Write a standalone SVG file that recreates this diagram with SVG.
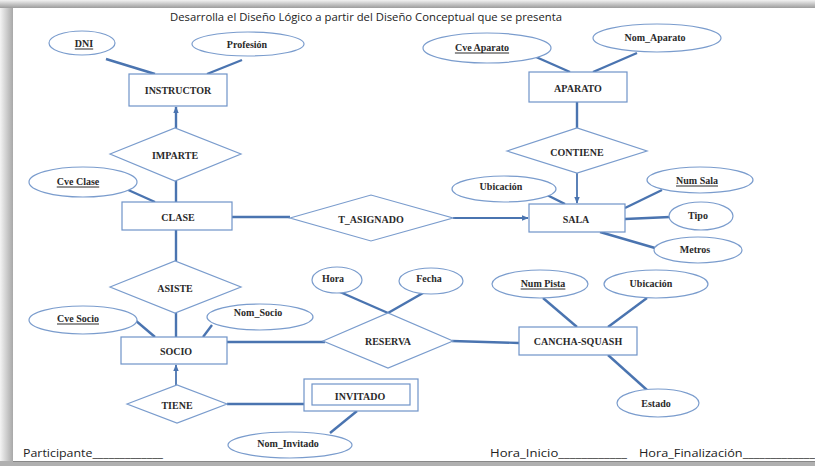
<svg xmlns="http://www.w3.org/2000/svg" width="815" height="466" viewBox="0 0 815 466">
<defs>
<linearGradient id="shL" x1="0" y1="0" x2="1" y2="0"><stop offset="0" stop-color="#f4f4f4"/><stop offset="1" stop-color="#a8a8a8"/></linearGradient>
<linearGradient id="shT" x1="0" y1="0" x2="0" y2="1"><stop offset="0" stop-color="#f2f2f2"/><stop offset="1" stop-color="#9c9c9c"/></linearGradient>
<marker id="arr" viewBox="0 0 10 10" refX="9" refY="5" markerWidth="7" markerHeight="7" markerUnits="userSpaceOnUse" orient="auto"><path d="M0,1 L10,5 L0,9 z" fill="#4a74b0"/></marker>
<style>
.ent{fill:#fff;stroke:#6f93c8;stroke-width:1.2}
.att{fill:#fff;stroke:#7a9ccd;stroke-width:1.2}
.rel{fill:#fff;stroke:#7a9ccd;stroke-width:1.2}
.t{font-family:"Liberation Serif",serif;font-weight:bold;font-size:10px;fill:#2a2a2a;text-anchor:middle;dominant-baseline:central}
.u{text-decoration:underline}
.c line,.c path{stroke:#4a74b0;stroke-width:2.4;fill:none}
.hd{font-family:"Open Sans","Liberation Sans",sans-serif;font-size:10.5px;fill:#222}
</style>
</defs>
<rect x="0" y="0" width="815" height="466" fill="#fff"/>
<rect x="0" y="0" width="13" height="466" fill="url(#shL)"/>
<rect x="0" y="0" width="815" height="8" fill="url(#shT)"/>
<rect x="0" y="461" width="815" height="5" fill="#b0b0b0"/>
<line x1="13" y1="461.5" x2="815" y2="461.5" stroke="#888" stroke-width="1.2"/>

<text class="hd" x="366" y="21" text-anchor="middle" textLength="392" lengthAdjust="spacingAndGlyphs">Desarrolla el Diseño Lógico a partir del Diseño Conceptual que se presenta</text>

<g class="c" id="connectors">
<line x1="106" y1="59" x2="155" y2="74"/>
<line x1="242" y1="60" x2="207" y2="74"/>
<line x1="176" y1="128" x2="176" y2="107" marker-end="url(#arr)"/>
<line x1="176" y1="181" x2="176" y2="202"/>
<line x1="126" y1="189" x2="155" y2="202"/>
<line x1="232" y1="217" x2="290" y2="217"/>
<line x1="453" y1="218" x2="528" y2="218" marker-end="url(#arr)" style="stroke-width:1.8"/>
<line x1="536" y1="57" x2="570" y2="72"/>
<line x1="637" y1="53" x2="593" y2="72"/>
<line x1="577" y1="102" x2="577" y2="128"/>
<line x1="577" y1="173" x2="577" y2="203" marker-end="url(#arr)" style="stroke-width:1.8"/>
<line x1="547" y1="195" x2="565" y2="204"/>
<line x1="662" y1="190" x2="625" y2="208"/>
<line x1="625" y1="219" x2="670" y2="217"/>
<line x1="600" y1="232" x2="655" y2="248"/>
<line x1="176" y1="230" x2="176" y2="261"/>
<line x1="176" y1="313" x2="176" y2="337"/>
<line x1="135" y1="320" x2="155" y2="337"/>
<line x1="212" y1="325" x2="203" y2="337"/>
<line x1="227" y1="342" x2="325" y2="342"/>
<line x1="176" y1="385" x2="176" y2="365" marker-end="url(#arr)" style="stroke-width:1.8"/>
<line x1="227" y1="404" x2="304" y2="404"/>
<line x1="357" y1="411" x2="330" y2="433"/>
<line x1="340" y1="292" x2="388" y2="313"/>
<line x1="423" y1="293" x2="388" y2="313"/>
<line x1="452" y1="341" x2="519" y2="343"/>
<line x1="543" y1="298" x2="577" y2="327"/>
<line x1="647" y1="298" x2="608" y2="327"/>
<line x1="608" y1="355" x2="647" y2="390"/>
</g>

<g id="instructor"><rect class="ent" x="129" y="74" width="98" height="32"/><text class="t" x="178" y="90">INSTRUCTOR</text></g>
<g id="dni"><ellipse class="att" cx="82" cy="43" rx="33" ry="12"/><text class="t u" x="84" y="43">DNI</text></g>
<g id="profesion"><ellipse class="att" cx="248" cy="44" rx="56" ry="12"/><text class="t" x="247" y="44">Profesión</text></g>
<g id="imparte"><polygon class="rel" points="110,154 175,128 241,154 175,181"/><text class="t" x="175" y="155">IMPARTE</text></g>
<g id="clase"><rect class="ent" x="122" y="202" width="110" height="28"/><text class="t" x="178" y="217">CLASE</text></g>
<g id="cve_clase"><ellipse class="att" cx="83" cy="182" rx="54" ry="15"/><text class="t u" x="78" y="181">Cve Clase</text></g>
<g id="t_asignado"><polygon class="rel" points="290,218 371,195 453,218 371,241"/><text class="t" x="371" y="219">T_ASIGNADO</text></g>
<g id="aparato"><rect class="ent" x="529" y="72" width="98" height="30"/><text class="t" x="578" y="88">APARATO</text></g>
<g id="cve_aparato"><ellipse class="att" cx="487" cy="48" rx="64" ry="15"/><text class="t u" x="482" y="47">Cve Aparato</text></g>
<g id="nom_aparato"><ellipse class="att" cx="657" cy="38" rx="64" ry="14"/><text class="t" x="655" y="37">Nom_Aparato</text></g>
<g id="contiene"><polygon class="rel" points="507,151 577,128 647,151 577,173"/><text class="t" x="577" y="152">CONTIENE</text></g>
<g id="sala"><rect class="ent" x="529" y="204" width="96" height="28"/><text class="t" x="576" y="219">SALA</text></g>
<g id="ubicacion_sala"><ellipse class="att" cx="504" cy="189" rx="52" ry="13"/><text class="t" x="501" y="186">Ubicación</text></g>
<g id="num_sala"><ellipse class="att" cx="700" cy="180" rx="53" ry="13"/><text class="t u" x="697" y="180">Num Sala</text></g>
<g id="tipo"><ellipse class="att" cx="701" cy="216" rx="32" ry="14"/><text class="t" x="698" y="215">Tipo</text></g>
<g id="metros"><ellipse class="att" cx="698" cy="250" rx="44" ry="13"/><text class="t" x="695" y="249">Metros</text></g>
<g id="asiste"><polygon class="rel" points="110,287 175,261 241,287 175,313"/><text class="t" x="175" y="288">ASISTE</text></g>
<g id="socio"><rect class="ent" x="121" y="337" width="106" height="27"/><text class="t" x="176" y="351">SOCIO</text></g>
<g id="cve_socio"><ellipse class="att" cx="83" cy="320" rx="54" ry="14"/><text class="t u" x="78" y="318">Cve Socio</text></g>
<g id="nom_socio"><ellipse class="att" cx="260" cy="317" rx="53" ry="13"/><text class="t" x="258" y="312">Nom_Socio</text></g>
<g id="tiene"><polygon class="rel" points="127,404 177,385 227,404 177,423"/><text class="t" x="177" y="405">TIENE</text></g>
<g id="invitado"><rect class="ent" x="304" y="379" width="114" height="32"/><rect class="ent" x="312" y="384" width="98" height="21"/><text class="t" x="360" y="396">INVITADO</text></g>
<g id="nom_invitado"><ellipse class="att" cx="290" cy="445" rx="62" ry="13"/><text class="t" x="288" y="443">Nom_Invitado</text></g>
<g id="hora"><ellipse class="att" cx="337" cy="280" rx="25" ry="13"/><text class="t" x="333" y="278">Hora</text></g>
<g id="fecha"><ellipse class="att" cx="431" cy="281" rx="32" ry="13"/><text class="t" x="429" y="278">Fecha</text></g>
<g id="reserva"><polygon class="rel" points="323,341 388,313 453,341 388,368"/><text class="t" x="388" y="341">RESERVA</text></g>
<g id="cancha"><rect class="ent" x="519" y="327" width="118" height="28"/><text class="t" x="578" y="341">CANCHA-SQUASH</text></g>
<g id="num_pista"><ellipse class="att" cx="540" cy="284" rx="48" ry="14"/><text class="t u" x="543" y="283">Num Pista</text></g>
<g id="ubicacion_cancha"><ellipse class="att" cx="656" cy="284" rx="52" ry="14"/><text class="t" x="651" y="283">Ubicación</text></g>
<g id="estado"><ellipse class="att" cx="658" cy="403" rx="41" ry="14"/><text class="t" x="656" y="403">Estado</text></g>

<text class="hd" x="23" y="457" textLength="140" lengthAdjust="spacingAndGlyphs">Participante_____________</text>
<text class="hd" x="490" y="457" textLength="137" lengthAdjust="spacingAndGlyphs">Hora_Inicio____________</text>
<text class="hd" x="639" y="457" textLength="176" lengthAdjust="spacingAndGlyphs">Hora_Finalización_____________</text>
</svg>
